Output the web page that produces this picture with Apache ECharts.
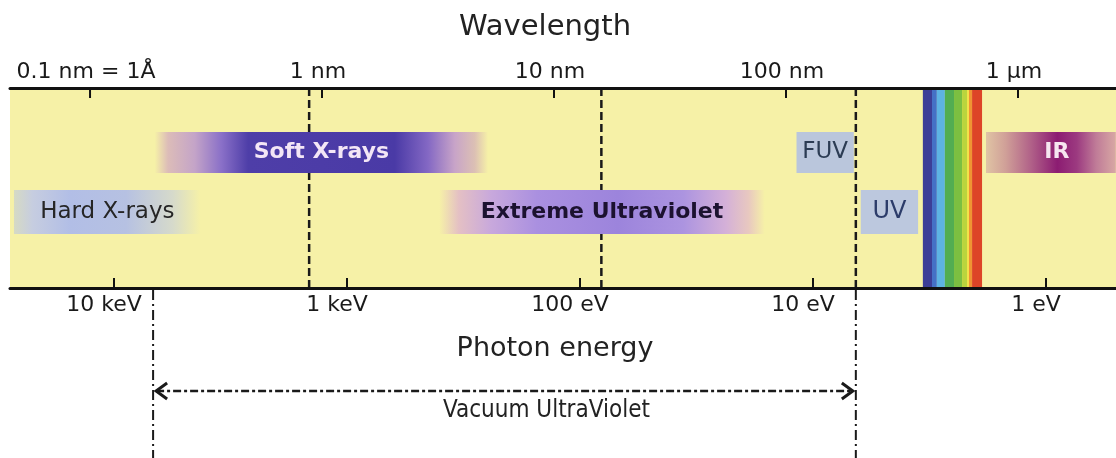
<!DOCTYPE html>
<html>
<head>
<meta charset="utf-8">
<script src="https://cdn.jsdelivr.net/npm/echarts@6/dist/echarts.min.js"></script>
<style>
  html, body { margin: 0; padding: 0; background: #fff; }
  #chart { width: 1116px; height: 458px; }
</style>
</head>
<body>
<div id="chart"></div>
<script>
// top axis: wavelength (nm)
const wavelengthTicks = [0.1, 1, 10, 100, 1000];
const wavelengthLabels = ['0.1 nm = 1Å', '1 nm', '10 nm', '100 nm', '1 µm'];

// bottom axis: photon energy (eV)
const energyTicks = [10000, 1000, 100, 10, 1];
const energyLabels = ['10 keV', '1 keV', '100 eV', '10 eV', '1 eV'];

// spectral regions (nm), row 0 = upper strip, row 1 = lower strip
const regionNames = ['Hard X-rays', 'Soft X-rays', 'Extreme Ultraviolet', 'FUV', 'UV', 'IR'];
const regionFrom = [0.047, 0.19, 3.2, 111, 210, 728];
const regionTo = [0.30, 5.2, 81, 196, 371, 2640];
const regionRow = [1, 0, 1, 0, 1, 0];

// dashed borders through the band (nm)
const boundaries = [0.88, 16, 200];

// vacuum UV span (nm)
const vuvFrom = 0.187;
const vuvTo = 200;

// visible light stripes (nm)
const visibleFrom = [389, 426, 447, 484, 530, 574, 603, 615, 634];
const visibleTo = [426, 447, 484, 530, 574, 603, 615, 634, 700];
const visibleColors = ['#3c3e97', '#4470c6', '#5db3e3', '#52ad52', '#7cbf41', '#bad53d', '#f1e34a', '#ef9433', '#dd4427'];

const FONT = '"DejaVu Sans", "Liberation Sans", sans-serif';
const BAND = '#f6f1a7';

// vertical extent of the two strips, in y-axis units (0 top .. 100 bottom of band)
const rows = [[22, 42.5], [51, 73]];

const grad = stops => new echarts.graphic.LinearGradient(0, 0, 1, 0,
  stops.map(s => ({ offset: s[0], color: s[1] })));

const regionStyle = {
  'Hard X-rays': {
    fill: grad([[0, '#d6dac4'], [0.1, '#c6cde0'], [0.3, '#b2bee6'], [0.6, '#b6c1e2'], [0.85, '#d6dacb'], [1, BAND]]),
    color: '#262626', weight: 'normal', size: 23
  },
  'Soft X-rays': {
    fill: grad([[0, BAND], [0.04, '#dcbcb8'], [0.12, '#c4a4c8'], [0.2, '#8a70c8'], [0.28, '#4e3ea8'],
      [0.72, '#4a3aa6'], [0.82, '#8468c4'], [0.9, '#c8a4c8'], [0.96, '#dcc0b4'], [1, BAND]]),
    color: '#f3e6f6', weight: 'bold', size: 22
  },
  'Extreme Ultraviolet': {
    fill: grad([[0, BAND], [0.06, '#e4c0c4'], [0.16, '#c8a8dc'], [0.3, '#aa90e0'], [0.55, '#9c84dc'],
      [0.75, '#ac94e0'], [0.88, '#d4b0d8'], [0.95, '#e8c8c0'], [1, BAND]]),
    color: '#1c1230', weight: 'bold', size: 22
  },
  'FUV': { fill: '#bac6dc', color: '#2c3c54', weight: 'normal', size: 23 },
  'UV': { fill: '#bcc8de', color: '#2c3c6a', weight: 'normal', size: 24 },
  'IR': {
    fill: grad([[0, '#e0c4a4'], [0.15, '#d0a098'], [0.35, '#b06088'], [0.55, '#8c1c72'], [0.7, '#9c3a80'],
      [0.85, '#c07c98'], [1, '#d8a8a4']]),
    color: '#f6e6f0', weight: 'bold', size: 22, dx: 6
  }
};

function renderRegion(params, api) {
  const i = params.dataIndex;
  const row = rows[api.value(2)];
  const p0 = api.coord([api.value(0), row[0]]);
  const p1 = api.coord([api.value(1), row[1]]);
  const st = regionStyle[regionNames[i]];
  return {
    type: 'group',
    children: [
      {
        type: 'rect',
        shape: { x: p0[0], y: p0[1], width: p1[0] - p0[0], height: p1[1] - p0[1] },
        style: { fill: st.fill }
      },
      {
        type: 'text',
        style: {
          text: regionNames[i], x: (p0[0] + p1[0]) / 2 + (st.dx || 0), y: (p0[1] + p1[1]) / 2,
          align: 'center', verticalAlign: 'middle', fill: st.color,
          fontSize: st.size, fontWeight: st.weight, fontFamily: FONT
        }
      }
    ]
  };
}

function renderVisible(params, api) {
  const p0 = api.coord([api.value(0), 0]);
  const p1 = api.coord([api.value(1), 100]);
  return {
    type: 'rect',
    shape: { x: p0[0], y: p0[1], width: p1[0] - p0[0], height: p1[1] - p0[1] },
    style: { fill: visibleColors[params.dataIndex] }
  };
}

function renderBoundary(params, api) {
  const a = api.coord([api.value(0), 0]);
  const b = api.coord([api.value(0), 100]);
  return {
    type: 'line',
    shape: { x1: a[0], y1: a[1], x2: b[0], y2: b[1] },
    style: { stroke: '#1a1a1a', lineWidth: 2.5, lineDash: [8, 4] }
  };
}

function renderVuv(params, api) {
  const l = api.coord([api.value(0), 101]);
  const r = api.coord([api.value(1), 101]);
  const yEnd = api.coord([api.value(0), 185])[1];
  const yArrow = api.coord([api.value(0), 151.5])[1];
  const dashDot = { stroke: '#1a1a1a', lineWidth: 2, lineDash: [10, 4, 2, 4], fill: null };
  const head = { stroke: '#1a1a1a', lineWidth: 3, fill: null };
  return {
    type: 'group',
    children: [
      { type: 'line', shape: { x1: l[0], y1: l[1], x2: l[0], y2: yEnd }, style: dashDot },
      { type: 'line', shape: { x1: r[0], y1: l[1], x2: r[0], y2: yEnd }, style: dashDot },
      { type: 'line', shape: { x1: l[0] + 3, y1: yArrow, x2: r[0] - 3, y2: yArrow },
        style: { stroke: '#1a1a1a', lineWidth: 2.5, lineDash: [8, 3, 3, 3] } },
      { type: 'polyline', shape: { points: [[l[0] + 14, yArrow - 8], [l[0] + 3, yArrow], [l[0] + 14, yArrow + 8]] }, style: head },
      { type: 'polyline', shape: { points: [[r[0] - 14, yArrow - 8], [r[0] - 3, yArrow], [r[0] - 14, yArrow + 8]] }, style: head },
      {
        type: 'text',
        style: {
          text: 'Vacuum UltraViolet', x: (l[0] + r[0]) / 2 + 42, y: yArrow + 20,
          align: 'center', verticalAlign: 'middle', fill: '#222',
          fontSize: 24, fontFamily: '"DejaVu Sans Condensed", "Liberation Sans Narrow", ' + FONT
        }
      }
    ]
  };
}

function renderTopTick(params, api) {
  const p = api.coord([api.value(0), 0]);
  return {
    type: 'group',
    children: [
      { type: 'line', shape: { x1: p[0], y1: p[1], x2: p[0], y2: p[1] + 10 }, style: { stroke: '#111', lineWidth: 2 } },
      {
        type: 'text',
        style: {
          text: wavelengthLabels[params.dataIndex], x: p[0] - 4, y: p[1] - 16,
          align: 'center', verticalAlign: 'middle', fill: '#1a1a1a', fontSize: 22, fontFamily: FONT
        }
      }
    ]
  };
}

function renderBottomTick(params, api) {
  const p = api.coord([api.value(0), 100]);
  return {
    type: 'group',
    children: [
      { type: 'line', shape: { x1: p[0], y1: p[1], x2: p[0], y2: p[1] - 10 }, style: { stroke: '#111', lineWidth: 2 } },
      {
        type: 'text',
        style: {
          text: energyLabels[params.dataIndex], x: p[0] - 10, y: p[1] + 17,
          align: 'center', verticalAlign: 'middle', fill: '#1a1a1a', fontSize: 22, fontFamily: FONT
        }
      }
    ]
  };
}

let chart = echarts.init(document.getElementById('chart'));

let option = {
  backgroundColor: '#fff',
  animation: false,
  grid: {
    left: 10, right: 0, top: 88, bottom: 170,
    show: true, backgroundColor: BAND, borderWidth: 0,
    outerBoundsMode: 'none'
  },
  xAxis: [
    {
      type: 'log', position: 'top', z: 10,
      min: 0.045186, max: 2645.4,
      name: 'Wavelength', nameLocation: 'middle', nameGap: 46,
      nameTextStyle: { fontSize: 29, fontFamily: FONT, color: '#222', padding: [0, 36, 0, 0] },
      axisLine: { show: true, onZero: false, lineStyle: { color: '#111', width: 3 } },
      axisTick: { show: false }, axisLabel: { show: false }, splitLine: { show: false }
    },
    {
      type: 'log', position: 'bottom', z: 10, inverse: true,
      min: 0.5006, max: 27950,
      name: 'Photon energy', nameLocation: 'middle', nameGap: 47,
      nameTextStyle: { fontSize: 27, fontFamily: FONT, color: '#222', padding: [0, 16, 0, 0] },
      axisLine: { show: true, onZero: false, lineStyle: { color: '#111', width: 3 } },
      axisTick: { show: false }, axisLabel: { show: false }, splitLine: { show: false }
    }
  ],
  yAxis: { type: 'value', min: 0, max: 100, inverse: true, show: false },
  series: [
    {
      type: 'custom', z: 1, xAxisIndex: 0, renderItem: renderBoundary,
      data: boundaries.map(v => [v, 0])
    },
    {
      type: 'custom', z: 2, xAxisIndex: 0, renderItem: renderRegion,
      data: regionNames.map((n, i) => [regionFrom[i], regionTo[i], regionRow[i]])
    },
    {
      type: 'custom', z: 3, xAxisIndex: 0, renderItem: renderVisible,
      data: visibleFrom.map((v, i) => [v, visibleTo[i]])
    },
    {
      type: 'custom', z: 4, xAxisIndex: 0, renderItem: renderVuv, clip: false,
      data: [[vuvFrom, vuvTo]]
    },
    {
      type: 'custom', z: 4, xAxisIndex: 0, renderItem: renderTopTick, clip: false,
      data: wavelengthTicks.map(v => [v, 0])
    },
    {
      type: 'custom', z: 4, xAxisIndex: 1, renderItem: renderBottomTick, clip: false,
      data: energyTicks.map(v => [v, 100])
    }
  ]
};

option && chart.setOption(option);
</script>
</body>
</html>
